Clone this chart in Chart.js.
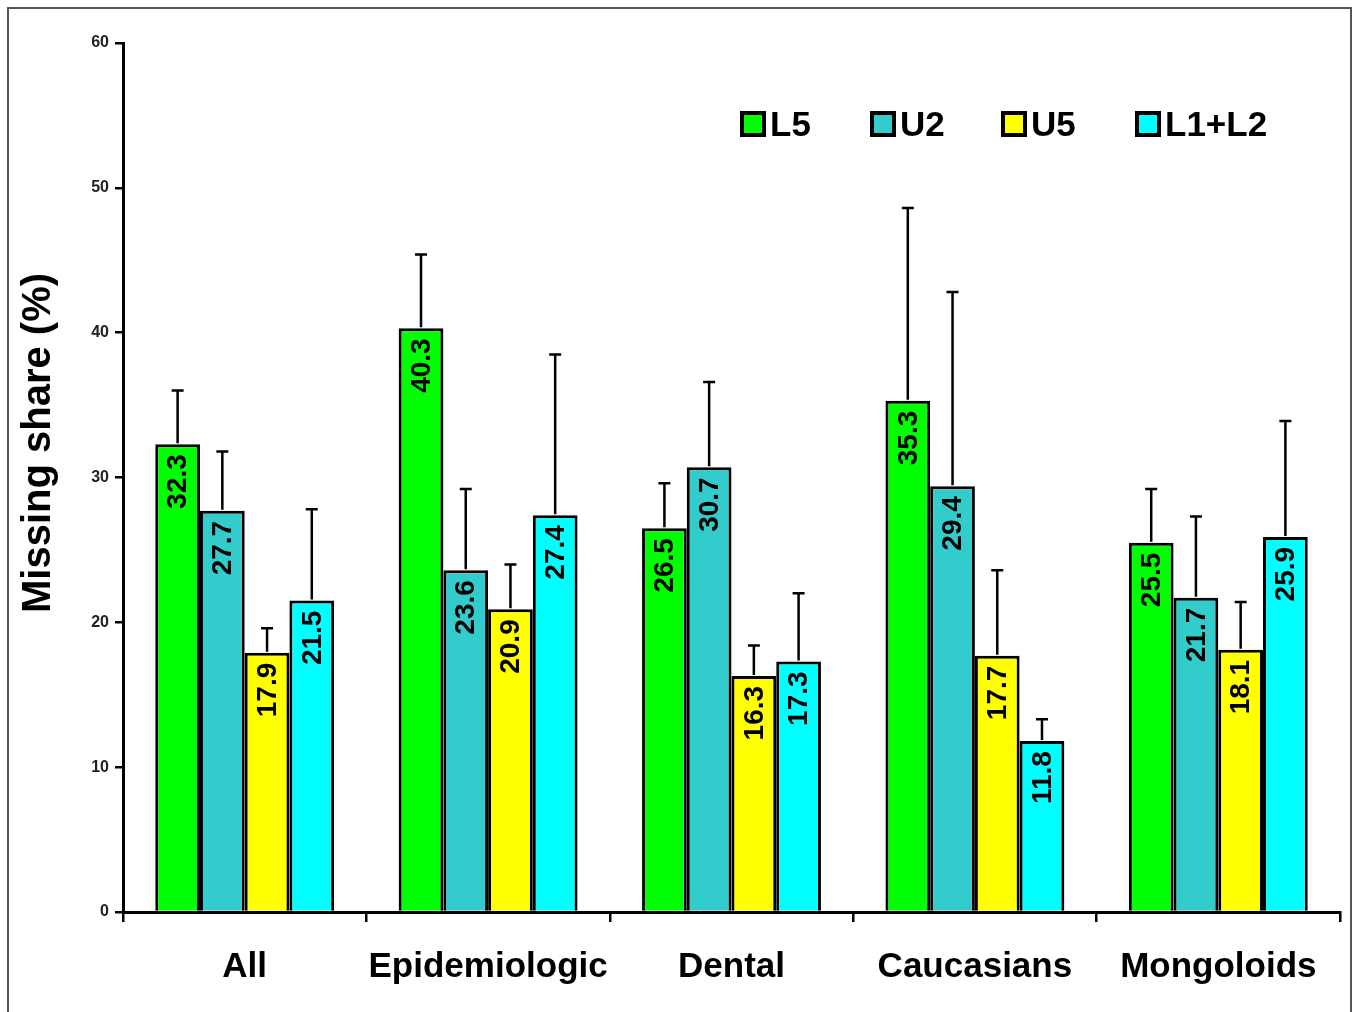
<!DOCTYPE html>
<html>
<head>
<meta charset="utf-8">
<script src="https://cdn.jsdelivr.net/npm/chart.js@4/dist/chart.umd.min.js"></script>
<style>
  html, body { margin: 0; padding: 0; background: #fff; }
  #wrap { width: 1353px; height: 1012px; position: relative; }
</style>
</head>
<body>
<div id="wrap"><canvas id="chart" width="1353" height="1012"></canvas></div>
<script>
const categories = ['All', 'Epidemiologic', 'Dental', 'Caucasians', 'Mongoloids'];
const seriesNames = ['L5', 'U2', 'U5', 'L1+L2'];
const seriesColors = ['#00ff00', '#33cccc', '#ffff00', '#00ffff'];

// mean values (%)
const l5 = [32.3, 40.3, 26.5, 35.3, 25.5];
const u2 = [27.7, 23.6, 30.7, 29.4, 21.7];
const u5 = [17.9, 20.9, 16.3, 17.7, 18.1];
const l1l2 = [21.5, 27.4, 17.3, 11.8, 25.9];

// upper error
const l5Err = [3.7, 5.1, 3.1, 13.3, 3.7];
const u2Err = [4.1, 5.6, 5.9, 13.4, 5.6];
const u5Err = [1.7, 3.1, 2.1, 5.9, 3.3];
const l1l2Err = [6.3, 11.1, 4.7, 1.5, 8.0];

const yTicks = [0, 10, 20, 30, 40, 50, 60];

const values = [l5, u2, u5, l1l2];
const errors = [l5Err, u2Err, u5Err, l1l2Err];
const FONT = '"Liberation Sans", Arial, Helvetica, sans-serif';

// whiskers + rotated value labels
const barExtras = {
  id: 'barExtras',
  afterDatasetsDraw(chart) {
    const ctx = chart.ctx;
    const yScale = chart.scales.y;
    chart.data.datasets.forEach((ds, di) => {
      const meta = chart.getDatasetMeta(di);
      meta.data.forEach((bar, i) => {
        const top = yScale.getPixelForValue(ds.data[i] + errors[di][i]);
        ctx.save();
        ctx.strokeStyle = '#000';
        ctx.lineWidth = 2.5;
        ctx.beginPath();
        ctx.moveTo(bar.x, bar.y - 1);
        ctx.lineTo(bar.x, top);
        ctx.moveTo(bar.x - 6, top);
        ctx.lineTo(bar.x + 6, top);
        ctx.stroke();

        ctx.translate(bar.x, bar.y + 10);
        ctx.rotate(-Math.PI / 2);
        ctx.fillStyle = '#000';
        ctx.font = 'bold 28px ' + FONT;
        ctx.textAlign = 'right';
        ctx.textBaseline = 'middle';
        ctx.fillText(ds.data[i].toFixed(1), 0, 1);
        ctx.restore();
      });
    });
  }
};

// frame, y title, legend
const decor = {
  id: 'decor',
  beforeDraw(chart) {
    const ctx = chart.ctx;
    ctx.save();
    ctx.fillStyle = '#fff';
    ctx.fillRect(0, 0, chart.width, chart.height);
    ctx.strokeStyle = '#555';
    ctx.lineWidth = 2;
    ctx.strokeRect(8, 8, 1343, 1010);
    ctx.restore();
  },
  afterDraw(chart) {
    const ctx = chart.ctx;
    ctx.save();
    ctx.translate(39, 443);
    ctx.rotate(-Math.PI / 2);
    ctx.fillStyle = '#000';
    ctx.font = 'bold 40px ' + FONT;
    ctx.textAlign = 'center';
    ctx.textBaseline = 'middle';
    ctx.fillText('Missing share (%)', 0, 0);
    ctx.restore();

    const boxX = [742, 872, 1003, 1137];
    ctx.save();
    ctx.font = 'bold 35px ' + FONT;
    ctx.textBaseline = 'middle';
    seriesNames.forEach((name, k) => {
      ctx.fillStyle = seriesColors[k];
      ctx.fillRect(boxX[k], 113, 22, 22);
      ctx.strokeStyle = '#000';
      ctx.lineWidth = 4;
      ctx.strokeRect(boxX[k], 113, 22, 22);
      ctx.fillStyle = '#000';
      ctx.fillText(name, boxX[k] + 28, 126);
    });
    ctx.restore();
  }
};

new Chart(document.getElementById('chart'), {
  type: 'bar',
  data: {
    labels: categories,
    datasets: values.map((v, k) => ({
      label: seriesNames[k],
      data: v,
      backgroundColor: seriesColors[k],
      borderColor: '#000',
      borderWidth: 3,
      borderSkipped: 'bottom',
      categoryPercentage: 0.735,
      barPercentage: 1
    }))
  },
  options: {
    responsive: false,
    animation: false,
    layout: { padding: { left: 0, right: 13, top: 43, bottom: 0 } },
    plugins: { legend: { display: false }, tooltip: { enabled: false } },
    scales: {
      x: {
        offset: true,
        grid: { offset: true, drawOnChartArea: false, color: '#000', lineWidth: 2.5, tickLength: 10 },
        border: { color: '#000', width: 3 },
        ticks: { color: '#000', font: { family: FONT, size: 35, weight: 'bold' }, padding: 24, maxRotation: 0, minRotation: 0, autoSkip: false },
        afterFit(scale) { scale.height = 100; }
      },
      y: {
        min: 0, max: 60,
        afterBuildTicks(scale) { scale.ticks = yTicks.map(v => ({ value: v })); },
        grid: { drawOnChartArea: false, color: '#000', lineWidth: 2.5, tickLength: 8 },
        border: { color: '#000', width: 3 },
        ticks: { color: '#222', font: { family: FONT, size: 16, weight: 'bold' }, padding: 6 },
        afterFit(scale) { scale.width = 123; }
      }
    }
  },
  plugins: [decor, barExtras]
});
</script>
</body>
</html>
